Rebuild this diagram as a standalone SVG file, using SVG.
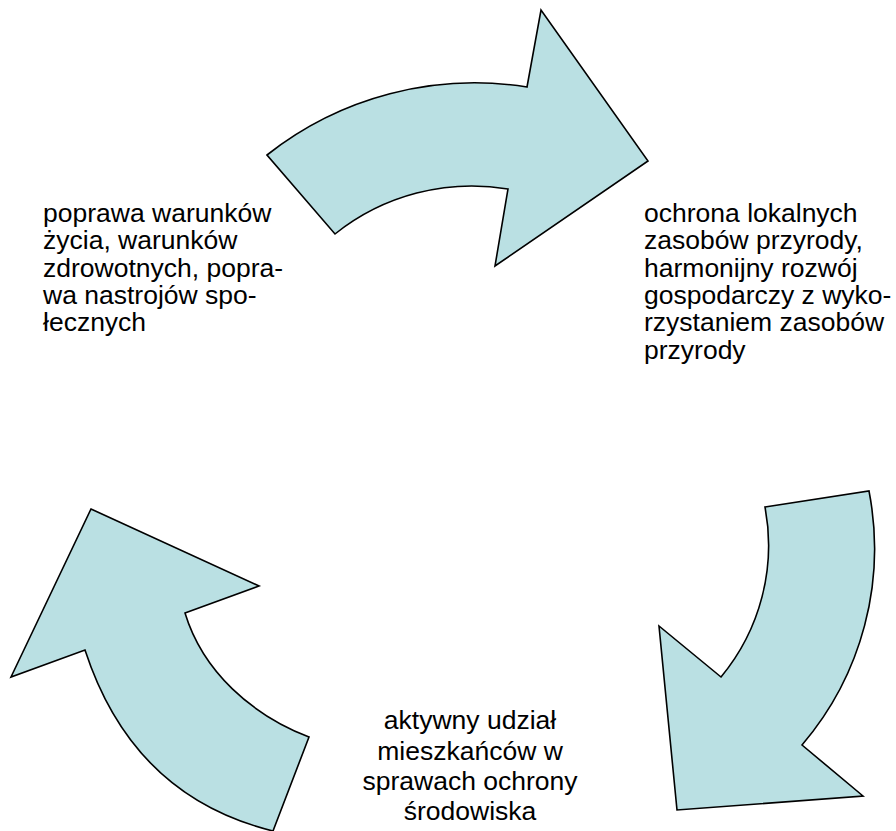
<svg xmlns="http://www.w3.org/2000/svg" width="896" height="831" viewBox="0 0 896 831">
<style>
.arr{fill:#BAE0E3;stroke:#000;stroke-width:1.6;stroke-linejoin:miter}
.t{font-family:"Liberation Sans",Arial,sans-serif;font-size:26.5px;fill:#000}
.c{text-anchor:middle}
</style>
<rect width="896" height="831" fill="#fff"/>
<g id="connectors">
<path id="arrow-top" class="arr" d="M267,155 A335,335 0 0 1 527,87 L541,10 L648,161 L495,266 L508,189 A219,219 0 0 0 335,234 Z"/>
<path id="arrow-right" class="arr" d="M765,507 L869,491 A302,302 0 0 1 802,745 L863,796 L677,810 L659,626 L721,677 A206,206 0 0 0 765,507 Z"/>
<path id="arrow-left" class="arr" d="M91,509 L259,586 L185,613 C203,672 252,715 309,737 L273,831 C176,807 116,745 85,650 L11,677 Z"/>
</g>
<g id="node-left">
<text class="t" x="43" y="222">poprawa warunków</text>
<text class="t" x="43" y="249.3">życia, warunków</text>
<text class="t" x="43" y="276.6">zdrowotnych, popra-</text>
<text class="t" x="43" y="303.9">wa nastrojów spo-</text>
<text class="t" x="43" y="331.2">łecznych</text>
</g>
<g id="node-right">
<text class="t" x="644" y="222">ochrona lokalnych</text>
<text class="t" x="644" y="249.3">zasobów przyrody,</text>
<text class="t" x="644" y="276.6">harmonijny rozwój</text>
<text class="t" x="644" y="303.9">gospodarczy z wyko-</text>
<text class="t" x="644" y="331.2">rzystaniem zasobów</text>
<text class="t" x="644" y="358.5">przyrody</text>
</g>
<g id="node-bottom">
<text class="t c" x="470" y="729">aktywny udział</text>
<text class="t c" x="470" y="759.5">mieszkańców w</text>
<text class="t c" x="470" y="790">sprawach ochrony</text>
<text class="t c" x="470" y="820">środowiska</text>
</g>
</svg>
